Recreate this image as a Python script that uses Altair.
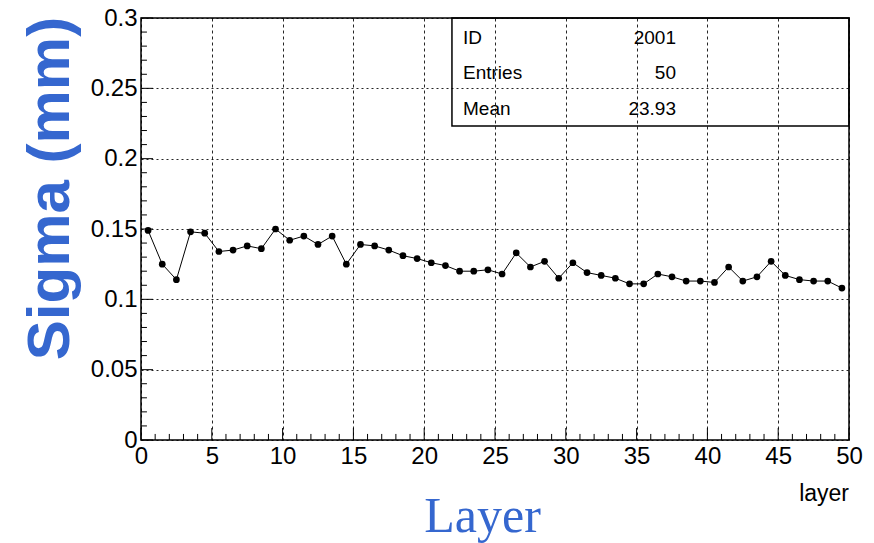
import altair as alt
import pandas as pd

# ---- data ----
layer = [i + 0.5 for i in range(50)]
sigma = [0.149, 0.125, 0.114, 0.148, 0.147, 0.134, 0.135, 0.138, 0.136, 0.150,
         0.142, 0.145, 0.139, 0.145, 0.125, 0.139, 0.138, 0.135, 0.131, 0.129,
         0.126, 0.124, 0.120, 0.120, 0.121, 0.118, 0.133, 0.123, 0.127, 0.115,
         0.126, 0.119, 0.117, 0.115, 0.111, 0.111, 0.118, 0.116, 0.113, 0.113,
         0.112, 0.123, 0.113, 0.116, 0.127, 0.117, 0.114, 0.113, 0.113, 0.108]
x_major = [0, 5, 10, 15, 20, 25, 30, 35, 40, 45, 50]
y_major = [0, 0.05, 0.1, 0.15, 0.2, 0.25, 0.3]
x_minor = list(range(0, 51))
y_minor = [round(i * 0.01, 2) for i in range(0, 31)]
stat_names = ["ID", "Entries", "Mean"]
stat_values = ["2001", "50", "23.93"]
stat_rows = [0.2858, 0.2609, 0.2353]

FONT = "Liberation Sans, Arial"
BLUE = "#3567cf"
W, H = 708, 422

xs = alt.Scale(domain=[0, 50], nice=False, zero=False)
ys = alt.Scale(domain=[0, 0.3], nice=False, zero=False)

df = pd.DataFrame({"layer": layer, "sigma": sigma})

x_axis = alt.Axis(values=x_major, grid=True, gridColor="black", gridDash=[3, 3],
                  gridWidth=1, gridOpacity=0.85, ticks=False, domain=False,
                  labelFont=FONT, labelFontSize=24, labelColor="black",
                  labelPadding=4, labelFlush=False,
                  title="Layer", titleFont="Liberation Serif", titleFontSize=50,
                  titleFontWeight="normal", titleColor=BLUE,
                  titleX=341, titleY=91, titleAlign="center",
                  titleBaseline="alphabetic")
y_axis = alt.Axis(values=y_major, grid=True, gridColor="black", gridDash=[2, 3],
                  gridWidth=1, gridOpacity=0.85, ticks=False, domain=False,
                  format="~g", labelFont=FONT, labelFontSize=24, labelColor="black",
                  labelPadding=4, labelFlush=False,
                  title="Sigma (mm)", titleFont="Liberation Sans", titleFontSize=60,
                  titleFontWeight="bold", titleColor=BLUE, titleAngle=-90,
                  titleX=-91, titleY=170, titleAlign="center",
                  titleBaseline="middle")


def X(field):
    return alt.X(field, type="quantitative", scale=xs, axis=x_axis)


def Y(field):
    return alt.Y(field, type="quantitative", scale=ys, axis=y_axis)


line = alt.Chart(df).mark_line(color="black", strokeWidth=1).encode(
    x=X("layer"), y=Y("sigma"))
pts = alt.Chart(df).mark_circle(color="black", opacity=1, size=45).encode(
    x=X("layer"), y=Y("sigma"))

# inner ticks (ROOT style)
xt = pd.DataFrame({"x": x_minor,
                   "y0": [0.0] * len(x_minor),
                   "y1": [0.0085 if v % 5 == 0 else 0.0043 for v in x_minor]})
yt = pd.DataFrame({"y": y_minor,
                   "x0": [0.0] * len(y_minor),
                   "x1": [0.85 if round(v * 100) % 5 == 0 else 0.42 for v in y_minor]})
xticks = alt.Chart(xt).mark_rule(color="black", strokeWidth=1).encode(
    x=X("x"), y=Y("y0"), y2="y1:Q")
yticks = alt.Chart(yt).mark_rule(color="black", strokeWidth=1).encode(
    y=Y("y"), x=X("x0"), x2="x1:Q")

# statistics box
box_df = pd.DataFrame({"x0": [21.96], "x1": [50.0], "y0": [0.2232], "y1": [0.3]})
box = alt.Chart(box_df).mark_rect(fillOpacity=0, stroke="black", strokeWidth=1.5).encode(
    x=X("x0"), x2="x1:Q", y=Y("y0"), y2="y1:Q")
st = pd.DataFrame({"name": stat_names, "val": stat_values, "y": stat_rows,
                   "xn": [22.74] * 3, "xv": [37.78] * 3})
st_names = alt.Chart(st).mark_text(align="left", baseline="middle", font=FONT,
                                   fontSize=19, color="black").encode(
    x=X("xn"), y=Y("y"), text="name:N")
st_vals = alt.Chart(st).mark_text(align="right", baseline="middle", font=FONT,
                                  fontSize=19, color="black").encode(
    x=X("xv"), y=Y("y"), text="val:N")

unit = alt.Chart(pd.DataFrame({"t": ["layer"]})).mark_text(
    align="right", baseline="middle", font=FONT, fontSize=23, color="black").encode(
    x=alt.value(W), y=alt.value(H + 54), text="t:N")

chart = alt.layer(line, xticks, yticks, pts, box, st_names, st_vals, unit).properties(
    width=W, height=H,
    padding={"left": 141, "top": 18, "right": 25, "bottom": 103},
    autosize=alt.AutoSizeParams(type="none"),
    background="white",
).configure_view(stroke="black", strokeWidth=1.5)

chart.save("out.html", embed_options={"renderer": "svg", "actions": False})
